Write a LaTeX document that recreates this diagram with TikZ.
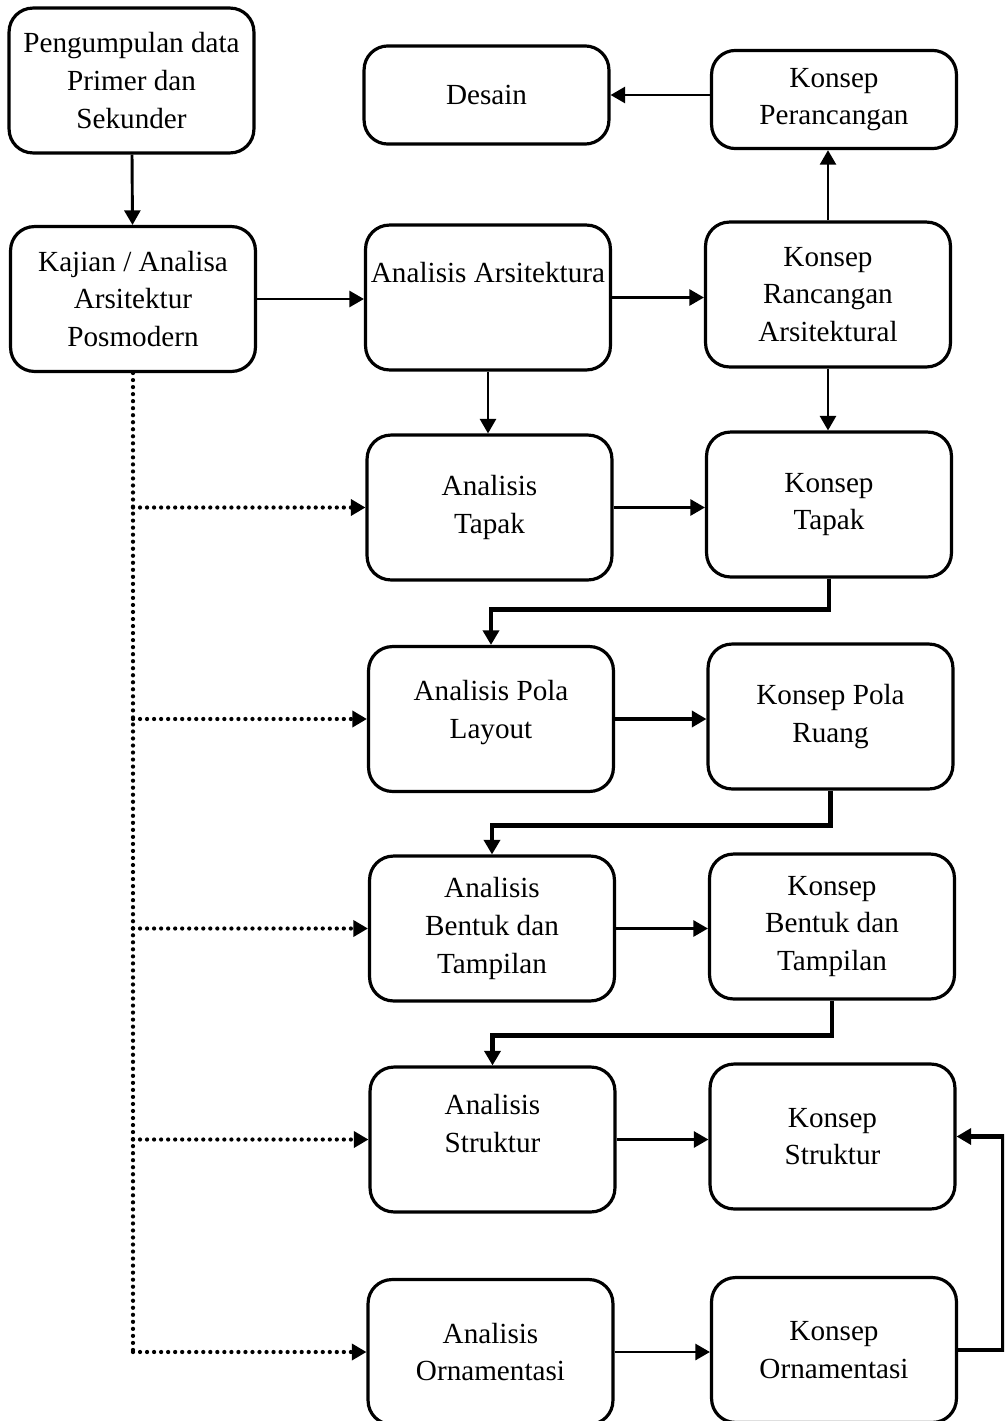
\documentclass[tikz,border=0pt]{standalone}
\usepackage{fontspec}
\setmainfont{Liberation Serif}
\usetikzlibrary{arrows.meta}

\begin{document}
\begin{tikzpicture}[x=0.0265cm, y=-0.0265cm,
    box/.style={draw, line width=2.4pt, rounded corners=18pt, align=center,
        inner sep=2pt, minimum width=6.49cm, minimum height=3.84cm,
        font=\fontsize{22pt}{28.5pt}\selectfont},
    smallbox/.style={box, minimum height=2.6cm},
    arr/.style={-{Triangle[length=11pt,width=12pt]}, line width=2.2pt},
    thickarr/.style={arr, line width=3.4pt},
    dotline/.style={line width=3.2pt, line cap=round, dash pattern=on 0pt off 5.3pt},
    dotarr/.style={dotline, -{Triangle[length=11pt,width=12pt]}}]
    \clip (0,0) rectangle (1004,1421);

    \node[box](data) at (131.5, 80.5) {Pengumpulan data\\Primer dan\\Sekunder};
    \node[box](kajian) at (133, 299) {Kajian / Analisa\\Arsitektur\\Posmodern};

    \node[smallbox](desain) at (486.5, 95) {Desain};
    \node[smallbox](kperancangan) at (834, 99.5) {Konsep\\Perancangan};

    \node[box](aars) at (488, 297.5) {Analisis Arsitektura\\[9.5pt]~};
    \node[box](kars) at (828, 294.5) {Konsep\\Rancangan\\Arsitektural};

    \node[box](atapak) at (489.5, 507.5) {Analisis\\Tapak};
    \node[box](ktapak) at (829, 504.5) {Konsep\\Tapak};

    \node[box](apola) at (491, 719) {Analisis Pola\\Layout\\[-14pt]~};
    \node[box](kpola) at (830.5, 716.5) {Konsep Pola\\Ruang};

    \node[box](abentuk) at (492, 928.5) {Analisis\\Bentuk dan\\Tampilan};
    \node[box](kbentuk) at (832, 926.5) {Konsep\\Bentuk dan\\Tampilan};

    \node[box](astruktur) at (492.5, 1139.5) {Analisis\\Struktur\\[-4pt]~};
    \node[box](kstruktur) at (832.5, 1136.5) {Konsep\\Struktur};

    \node[box](aornamen) at (490.5, 1352) {Analisis\\Ornamentasi};
    \node[box](kornamen) at (834, 1350) {Konsep\\Ornamentasi};

    % alur utama
    \draw[arr] (data) -- (kajian);
    \draw[arr] (kajian.east) -- (kajian.east -| aars.west);
    \draw[arr] (aars.east) -- (aars.east -| kars.west);
    \draw[arr] (kars.north) -- (kars.north |- kperancangan.south);
    \draw[arr] (kperancangan.west |- desain.east) -- (desain.east);
    \draw[arr] (aars.south) -- (aars.south |- atapak.north);
    \draw[arr] (kars.south) -- (kars.south |- ktapak.north);

    \draw[arr] (atapak.east) -- (atapak.east -| ktapak.west);
    \draw[thickarr] (ktapak.south) -- ++(0,31) -| (apola.north);
    \draw[thickarr] (apola.east) -- (apola.east -| kpola.west);
    \draw[thickarr] (kpola.south) -- ++(0,35) -| (abentuk.north);
    \draw[arr] (abentuk.east) -- (abentuk.east -| kbentuk.west);
    \draw[thickarr] (kbentuk.south) -- ++(0,35) -| (astruktur.north);
    \draw[arr] (astruktur.east) -- (astruktur.east -| kstruktur.west);
    \draw[arr] (aornamen.east) -- (aornamen.east -| kornamen.west);
    \draw[thickarr] (kornamen.east) -- ++(45,0) |- (kstruktur.east);

    % garis titik-titik
    \draw[dotline] (kajian.south) -- (kajian.south |- aornamen.west);
    \draw[dotarr] (kajian.south |- atapak.west) -- (atapak.west);
    \draw[dotarr] (kajian.south |- apola.west) -- (apola.west);
    \draw[dotarr] (kajian.south |- abentuk.west) -- (abentuk.west);
    \draw[dotarr] (kajian.south |- astruktur.west) -- (astruktur.west);
    \draw[dotarr] (kajian.south |- aornamen.west) -- (aornamen.west);
\end{tikzpicture}
\end{document}
